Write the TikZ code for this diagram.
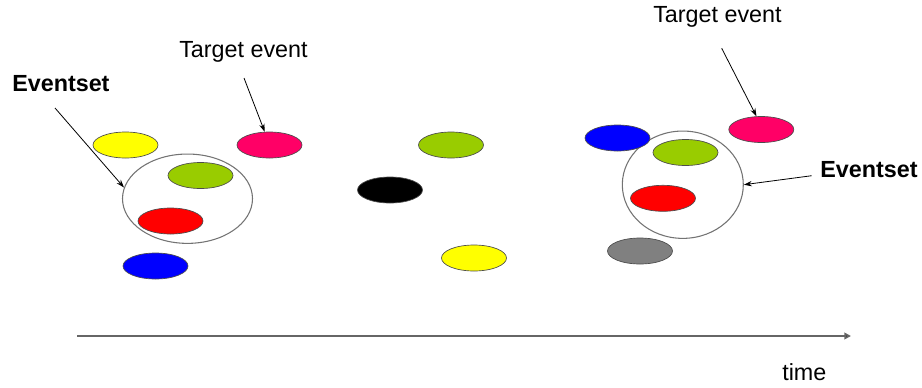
\documentclass[tikz,border=0pt]{standalone}
\usepackage{fontspec}
\setmainfont{Liberation Sans}
\usetikzlibrary{shapes.geometric,arrows.meta}
\definecolor{evyellow}{HTML}{FFFF00}
\definecolor{evmagenta}{HTML}{FF0066}
\definecolor{evgreen}{HTML}{99CC00}
\definecolor{evred}{HTML}{FF0000}
\definecolor{evblue}{HTML}{0000FF}
\definecolor{evgray}{HTML}{808080}
\definecolor{evblack}{HTML}{000000}
\tikzset{
  ev/.style={ellipse, draw=black!70, line width=0.5pt, minimum width=48.75pt, minimum height=19.5pt, inner sep=0pt},
  evset/.style={ellipse, draw=black!55, line width=0.8pt, inner sep=0pt},
  lbl/.style={font=\fontsize{17.5}{21}\selectfont, inner sep=0pt, anchor=west},
  blbl/.style={font=\fontsize{17.5}{21}\selectfont\bfseries, inner sep=0pt, anchor=west},
  pointer/.style={draw=black, line width=0.6pt, -{Stealth[length=6pt,width=4pt]}},
  axis/.style={draw=black!60, line width=1.3pt, -{Triangle[length=5pt,width=5pt,fill=black]}}
}
\begin{document}
\begin{tikzpicture}[x=0.75pt,y=-0.75pt]
\useasboundingbox (0,0) rectangle (922,387);
% left group
\node[evset, minimum width=97.5pt, minimum height=67pt] (es1) at (187.5,198.7) {};
\node[ev, fill=evyellow] (y1) at (125.5,145) {};
\node[ev, fill=evmagenta] (m1) at (269.5,145) {};
\node[ev, fill=evgreen] (g1) at (200.5,175.5) {};
\node[ev, fill=evred] (r1) at (170.5,221) {};
\node[ev, fill=evblue] (b1) at (155.5,266) {};
% middle
\node[ev, fill=evgreen] (g2) at (451,145) {};
\node[ev, fill=evblack] (k1) at (390,190) {};
\node[ev, fill=evyellow] (y2) at (474,258) {};
% right group
\node[evset, minimum width=90.75pt, minimum height=80.5pt] (es2) at (682.8,184.7) {};
\node[ev, fill=evblue] (b2) at (617.5,138) {};
\node[ev, fill=evmagenta] (m2) at (761.3,129.5) {};
\node[ev, fill=evgreen] (g3) at (685.5,152.5) {};
\node[ev, fill=evred] (r2) at (663,198.3) {};
\node[ev, fill=evgray] (s1) at (640,251) {};
% labels
\node[blbl] (t1) at (12,84) {Eventset};
\node[lbl] (t2) at (179,52) {Target event};
\node[lbl] (t3) at (653,17) {Target event};
\node[blbl] (t4) at (820,170) {Eventset};
\node[lbl] (t5) at (782,372) {time};
% pointer tails
\coordinate (c1) at (55,108);
\coordinate (c2) at (244,78);
\coordinate (c3) at (721.7,48.3);
\coordinate (c4) at (811.7,175.7);
\draw[pointer] (c1) -- (es1.170);
\draw[pointer] (c2) -- (m1.110);
\draw[pointer] (c3) -- (m2.110);
\draw[pointer] (c4) -- (es2.east);
% time axis
\coordinate (ax0) at (77,336);
\coordinate (ax1) at (851,336);
\draw[axis] (ax0) -- (ax1);
\end{tikzpicture}
\end{document}
